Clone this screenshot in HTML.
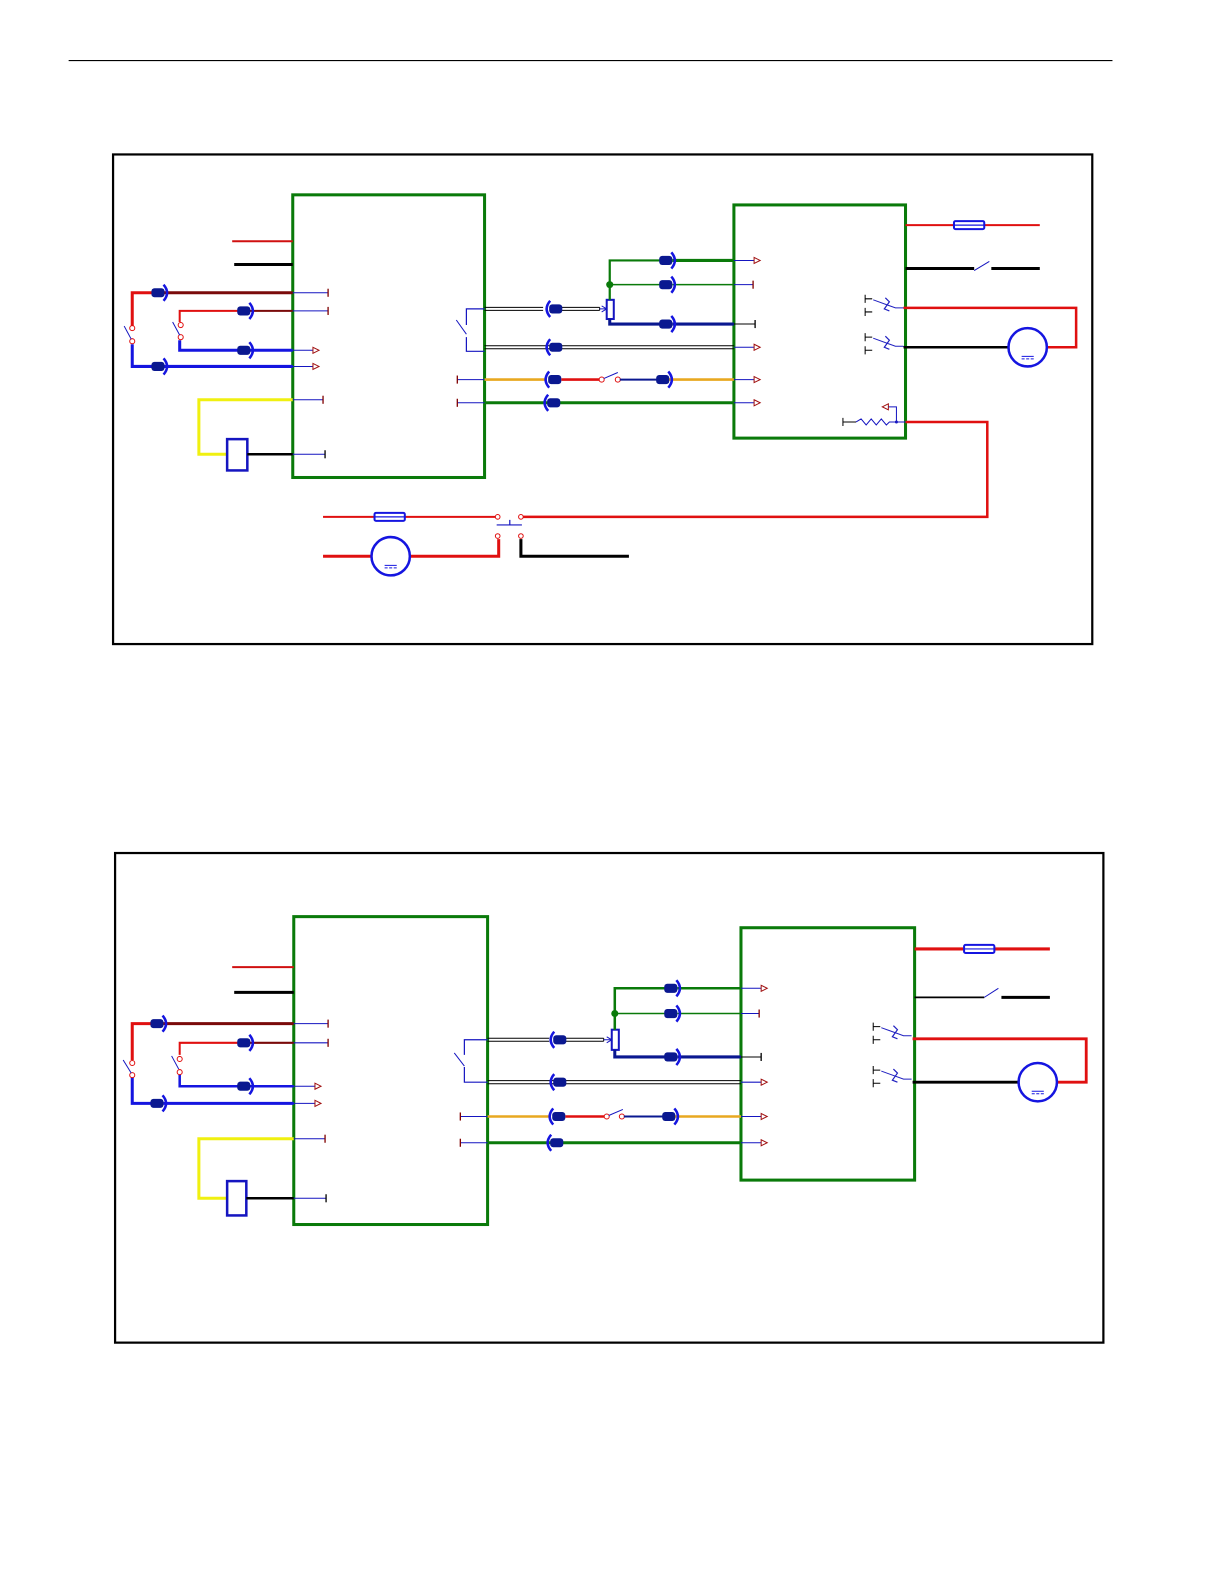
<!DOCTYPE html>
<html><head><meta charset="utf-8"><style>html,body{margin:0;padding:0;background:#fff}svg{display:block}</style></head>
<body>
<svg width="1224" height="1584" viewBox="0 0 1224 1584" xmlns="http://www.w3.org/2000/svg" fill="none" stroke-linecap="butt">
<defs>
<g id="cR"><rect x="-7" y="-4.5" width="13" height="9" rx="3" fill="#0a1890" stroke="none"/><path d="M5,-8 Q12,0 5,8" stroke="#1515e0" stroke-width="2.5"/></g>
<g id="cL"><rect x="-6" y="-4.5" width="13" height="9" rx="3" fill="#0a1890" stroke="none"/><path d="M-5,-8 Q-12,0 -5,8" stroke="#1515e0" stroke-width="2.5"/></g>
<g id="ar"><path d="M0,-3 L6,0 L0,3 Z" stroke="#a01010" stroke-width="1" fill="#fff"/></g>
<g id="tk"><path d="M0,-4 V4" stroke="#800000" stroke-width="1.3"/></g>
<g id="tkb"><path d="M0,-4 V4" stroke="#000" stroke-width="1.3"/></g>
<g id="motor"><circle r="19" stroke="#1515e0" stroke-width="2.5" fill="#fff"/><path d="M-6,9 H6 M-6,11.5 H-3 M-1.5,11.5 H1.5 M3,11.5 H6" stroke="#1515e0" stroke-width="1"/></g>
<g id="fuse"><rect x="0" y="-4" width="30" height="8" rx="1.5" stroke="#1515e0" stroke-width="2" fill="#fff"/><path d="M0,0 H30" stroke="#1515e0" stroke-width="1.2"/></g>
<g id="sw2"><path d="M0,-9 V-1 M0,-5 H7 M0,4 V12 M0,8 H7" stroke="#000" stroke-width="1"/><path d="M8,-4 L30,4 H38" stroke="#2020c0" stroke-width="1"/><path d="M20,-6 L24,-2 L19,5 L24,7" stroke="#2020c0" stroke-width="1.2"/></g>
</defs>
<g transform="scale(1.0095)">
<path d="M68,60 H1102" stroke="#000" stroke-width="1.2"/>

<rect x="112" y="153" width="970" height="485" stroke="#000" stroke-width="2.2"/>
<rect x="290" y="193" width="190" height="280" stroke="#0a7a0a" stroke-width="3"/>
<rect x="727" y="203" width="170" height="231" stroke="#0a7a0a" stroke-width="3"/>

<path d="M230,239 H290" stroke="#d01010" stroke-width="2"/>
<path d="M232,262 H290" stroke="#000" stroke-width="3"/>
<path d="M131,323 V290 H152" stroke="#e01010" stroke-width="3"/>
<path d="M162,290 H290" stroke="#7a0a0a" stroke-width="3"/>
<path d="M290,290 H325" stroke="#1515c0" stroke-width="1"/><use href="#tk" x="325" y="290"/>
<use href="#cR" x="157" y="290"/>
<path d="M178,319 V308 H236" stroke="#e01010" stroke-width="2"/>
<path d="M246,308 H290" stroke="#7a0a0a" stroke-width="2"/>
<path d="M290,308 H325" stroke="#1515c0" stroke-width="1"/><use href="#tk" x="325" y="308"/>
<use href="#cR" x="242" y="308"/>
<path d="M178,337 V347 H236" stroke="#1515e0" stroke-width="3"/>
<path d="M246,347 H290" stroke="#1515e0" stroke-width="3"/>
<path d="M290,347 H310" stroke="#1515c0" stroke-width="1"/><use href="#ar" x="310" y="347"/>
<use href="#cR" x="242" y="347"/>
<path d="M131,341 V363 H152" stroke="#1515e0" stroke-width="3"/>
<path d="M162,363 H290" stroke="#1515e0" stroke-width="3"/>
<path d="M290,363 H310" stroke="#1515c0" stroke-width="1"/><use href="#ar" x="310" y="363"/>
<use href="#cR" x="157" y="363"/>
<circle cx="131" cy="325" r="2.5" stroke="#e01010" stroke-width="1" fill="#fff"/>
<circle cx="131" cy="338" r="2.5" stroke="#e01010" stroke-width="1" fill="#fff"/>
<path d="M123,323 L130,336" stroke="#1515c0" stroke-width="1"/>
<circle cx="179" cy="322" r="2.5" stroke="#e01010" stroke-width="1" fill="#fff"/>
<circle cx="179" cy="334" r="2.5" stroke="#e01010" stroke-width="1" fill="#fff"/>
<path d="M171,319 L178,332" stroke="#1515c0" stroke-width="1"/>
<path d="M290,396 H197 V450 H225" stroke="#f0f010" stroke-width="3"/>
<path d="M290,396 H320" stroke="#1515c0" stroke-width="1"/><use href="#tk" x="320" y="396"/>
<rect x="225" y="435" width="20" height="31" stroke="#1515c0" stroke-width="2.5" fill="#fff"/>
<path d="M245,450 H290" stroke="#000" stroke-width="2.5"/>
<path d="M290,450 H322" stroke="#1515c0" stroke-width="1"/><use href="#tkb" x="322" y="450"/>

<path d="M480,306 H462 V322 M462,334 V348 H480" stroke="#1515c0" stroke-width="1.2"/>
<path d="M452,317 L462,331" stroke="#1515c0" stroke-width="1"/>
<path d="M480,304.5 H538 M480,307.5 H538 M555,304.5 H594 M555,307.5 H594 M594,304.5 V307.5" stroke="#000" stroke-width="1"/>
<path d="M594,306 H600 M596,303 L601,306 L596,309" stroke="#1515c0" stroke-width="1"/>
<use href="#cL" x="550" y="306"/>
<rect x="601" y="297" width="7" height="19" stroke="#1515c0" stroke-width="2" fill="#fff"/>
<path d="M604,316 V321 H656" stroke="#0a1890" stroke-width="3"/>
<path d="M666,321 H727" stroke="#0a1890" stroke-width="3"/>
<path d="M727,321 H748" stroke="#000" stroke-width="1"/><use href="#tkb" x="748" y="321"/>
<use href="#cR" x="660" y="321"/>
<path d="M604,297 V258 H656" stroke="#0a7a0a" stroke-width="2.2"/>
<path d="M666,258 H727" stroke="#0a7a0a" stroke-width="3"/>
<path d="M727,258 H747" stroke="#1515c0" stroke-width="1"/><use href="#ar" x="747" y="258"/>
<use href="#cR" x="660" y="258"/>
<path d="M604,282 H656 M666,282 H727" stroke="#0a7a0a" stroke-width="1.5"/>
<path d="M727,282 H746" stroke="#1515c0" stroke-width="1"/><use href="#tk" x="746" y="282"/>
<use href="#cR" x="660" y="282"/>
<circle cx="604" cy="282" r="3.5" fill="#0a7a0a" stroke="none"/>
<path d="M480,342.5 H727 M480,345.5 H727" stroke="#000" stroke-width="1"/>
<path d="M727,344 H747" stroke="#1515c0" stroke-width="1"/><use href="#ar" x="747" y="344"/>
<use href="#cL" x="550" y="344"/>
<path d="M453,376 H480" stroke="#1515c0" stroke-width="1"/><use href="#tk" x="453" y="376"/>
<path d="M480,376 H540" stroke="#e8a820" stroke-width="2.5"/>
<path d="M556,376 H594" stroke="#e01010" stroke-width="2.5"/>
<circle cx="596" cy="376" r="2.5" stroke="#e01010" stroke-width="1" fill="#fff"/>
<circle cx="612" cy="376" r="2.5" stroke="#e01010" stroke-width="1" fill="#fff"/>
<path d="M598,375 L612,369" stroke="#1515c0" stroke-width="1"/>
<path d="M614,376 H652" stroke="#0a1890" stroke-width="2"/>
<path d="M662,376 H727" stroke="#e8a820" stroke-width="2.5"/>
<use href="#cL" x="549" y="376"/>
<use href="#cR" x="657" y="376"/>
<path d="M727,376 H747" stroke="#1515c0" stroke-width="1"/><use href="#ar" x="747" y="376"/>
<path d="M453,399 H480" stroke="#1515c0" stroke-width="1"/><use href="#tk" x="453" y="399"/>
<path d="M480,399 H727" stroke="#0a7a0a" stroke-width="3"/>
<use href="#cL" x="548" y="399"/>
<path d="M727,399 H747" stroke="#1515c0" stroke-width="1"/><use href="#ar" x="747" y="399"/>

<path d="M897,223 H945 M975,223 H1030" stroke="#e01010" stroke-width="2"/>
<use href="#fuse" x="945" y="223"/>
<path d="M897,266 H965 M982,266 H1030" stroke="#000" stroke-width="3"/>
<path d="M965,268 L980,259" stroke="#1515c0" stroke-width="1"/>
<use href="#sw2" x="857" y="301"/>
<use href="#sw2" x="857" y="339"/>
<path d="M895,305 H1066 V344 H1037" stroke="#e01010" stroke-width="2.5"/>
<path d="M895,344 H999" stroke="#000" stroke-width="2.5"/>
<use href="#motor" x="1018" y="344"/>
<path d="M848,418 L853,415 L858,421 L863,415 L868,421 L873,415 L878,421 L881,418 H897" stroke="#1515c0" stroke-width="1"/>
<path d="M835,414 V422 M835,418 H848" stroke="#000" stroke-width="1"/>
<path d="M888,418 V403 H880" stroke="#1515c0" stroke-width="1"/>
<path d="M880,400 L874,403 L880,406 Z" stroke="#a01010" stroke-width="1" fill="#fff"/>
<circle cx="888" cy="418" r="1.5" fill="#1515c0" stroke="none"/>
<path d="M897,418 H978 V512 H518" stroke="#e01010" stroke-width="2.5"/>
<path d="M320,512 H370 M401,512 H491" stroke="#e01010" stroke-width="2"/>
<use href="#fuse" x="371" y="512"/>
<path d="M518,512 H978" stroke="#e01010" stroke-width="2"/>
<circle cx="493" cy="512" r="2.3" stroke="#e01010" stroke-width="1" fill="#fff"/>
<circle cx="516" cy="512" r="2.3" stroke="#e01010" stroke-width="1" fill="#fff"/>
<circle cx="493" cy="531" r="2.3" stroke="#e01010" stroke-width="1" fill="#fff"/>
<circle cx="516" cy="531" r="2.3" stroke="#e01010" stroke-width="1" fill="#fff"/>
<path d="M492,520 H517 M505,515 V520" stroke="#1515c0" stroke-width="1.2"/>
<path d="M320,551 H368 M406,551 H494 V534" stroke="#e01010" stroke-width="3"/>
<use href="#motor" x="387" y="551"/>
<path d="M516,534 V551 H623" stroke="#000" stroke-width="3"/>

<rect x="114" y="845" width="979" height="485" stroke="#000" stroke-width="2.2"/>
<rect x="291" y="908" width="192" height="305" stroke="#0a7a0a" stroke-width="3"/>
<rect x="734" y="919" width="172" height="250" stroke="#0a7a0a" stroke-width="3"/>

<path d="M230,958 H291" stroke="#d01010" stroke-width="2"/>
<path d="M232,983 H291" stroke="#000" stroke-width="3"/>
<path d="M131,1050 V1014 H152" stroke="#e01010" stroke-width="3"/>
<path d="M162,1014 H291" stroke="#7a0a0a" stroke-width="3"/>
<path d="M291,1014 H325" stroke="#1515c0" stroke-width="1"/><use href="#tk" x="325" y="1014"/>
<use href="#cR" x="156" y="1014"/>
<path d="M178,1045 V1033 H236" stroke="#e01010" stroke-width="2"/>
<path d="M246,1033 H291" stroke="#7a0a0a" stroke-width="2"/>
<path d="M291,1033 H325" stroke="#1515c0" stroke-width="1"/><use href="#tk" x="325" y="1033"/>
<use href="#cR" x="242" y="1033"/>
<path d="M178,1062 V1076 H236" stroke="#1515e0" stroke-width="2.5"/>
<path d="M246,1076 H291" stroke="#1515e0" stroke-width="2.5"/>
<path d="M291,1076 H312" stroke="#1515c0" stroke-width="1"/><use href="#ar" x="312" y="1076"/>
<use href="#cR" x="242" y="1076"/>
<path d="M131,1066 V1093 H152" stroke="#1515e0" stroke-width="3"/>
<path d="M162,1093 H291" stroke="#1515e0" stroke-width="3"/>
<path d="M291,1093 H312" stroke="#1515c0" stroke-width="1"/><use href="#ar" x="312" y="1093"/>
<use href="#cR" x="156" y="1093"/>
<circle cx="131" cy="1053" r="2.5" stroke="#e01010" stroke-width="1" fill="#fff"/>
<circle cx="131" cy="1065" r="2.5" stroke="#e01010" stroke-width="1" fill="#fff"/>
<path d="M122,1050 L130,1063" stroke="#1515c0" stroke-width="1"/>
<circle cx="178" cy="1049" r="2.5" stroke="#e01010" stroke-width="1" fill="#fff"/>
<circle cx="178" cy="1062" r="2.5" stroke="#e01010" stroke-width="1" fill="#fff"/>
<path d="M170,1046 L177,1059" stroke="#1515c0" stroke-width="1"/>
<path d="M291,1128 H197 V1187 H225" stroke="#f0f010" stroke-width="3"/>
<path d="M291,1128 H322" stroke="#1515c0" stroke-width="1"/><use href="#tk" x="322" y="1128"/>
<rect x="225" y="1170" width="19" height="34" stroke="#1515c0" stroke-width="2.5" fill="#fff"/>
<path d="M244,1187 H291" stroke="#000" stroke-width="2.5"/>
<path d="M291,1187 H323" stroke="#1515c0" stroke-width="1"/><use href="#tkb" x="323" y="1187"/>

<path d="M483,1030 H460 V1045 M460,1057 V1072 H483" stroke="#1515c0" stroke-width="1.2"/>
<path d="M450,1043 L460,1056" stroke="#1515c0" stroke-width="1"/>
<path d="M483,1028.5 H544 M483,1031.5 H544 M560,1028.5 H598 M560,1031.5 H598 M598,1028.5 V1031.5" stroke="#000" stroke-width="1"/>
<path d="M598,1030 H606 M601,1027 L606,1030 L601,1033" stroke="#1515c0" stroke-width="1"/>
<use href="#cL" x="554" y="1030"/>
<rect x="606" y="1020" width="7" height="20" stroke="#1515c0" stroke-width="2" fill="#fff"/>
<path d="M609,1040 V1047 H661" stroke="#0a1890" stroke-width="3"/>
<path d="M671,1047 H734" stroke="#0a1890" stroke-width="3"/>
<path d="M734,1047 H754" stroke="#000" stroke-width="1"/><use href="#tkb" x="754" y="1047"/>
<use href="#cR" x="665" y="1047"/>
<path d="M609,1020 V979 H661" stroke="#0a7a0a" stroke-width="2.5"/>
<path d="M671,979 H734" stroke="#0a7a0a" stroke-width="2.5"/>
<path d="M734,979 H754" stroke="#1515c0" stroke-width="1"/><use href="#ar" x="754" y="979"/>
<use href="#cR" x="665" y="979"/>
<path d="M609,1004 H661 M671,1004 H734" stroke="#0a7a0a" stroke-width="1.5"/>
<path d="M734,1004 H752" stroke="#1515c0" stroke-width="1"/><use href="#tk" x="752" y="1004"/>
<use href="#cR" x="665" y="1004"/>
<circle cx="609" cy="1004" r="3.5" fill="#0a7a0a" stroke="none"/>
<path d="M483,1070.5 H734 M483,1073.5 H734" stroke="#000" stroke-width="1"/>
<path d="M734,1072 H754" stroke="#1515c0" stroke-width="1"/><use href="#ar" x="754" y="1072"/>
<use href="#cL" x="554" y="1072"/>
<path d="M456,1106 H483" stroke="#1515c0" stroke-width="1"/><use href="#tk" x="456" y="1106"/>
<path d="M483,1106 H545" stroke="#e8a820" stroke-width="2.5"/>
<path d="M560,1106 H599" stroke="#e01010" stroke-width="2.5"/>
<circle cx="601" cy="1106" r="2.5" stroke="#e01010" stroke-width="1" fill="#fff"/>
<circle cx="616" cy="1106" r="2.5" stroke="#e01010" stroke-width="1" fill="#fff"/>
<path d="M603,1105 L617,1099" stroke="#1515c0" stroke-width="1"/>
<path d="M618,1106 H658" stroke="#0a1890" stroke-width="2"/>
<path d="M668,1106 H734" stroke="#e8a820" stroke-width="2.5"/>
<use href="#cL" x="553" y="1106"/>
<use href="#cR" x="663" y="1106"/>
<path d="M734,1106 H754" stroke="#1515c0" stroke-width="1"/><use href="#ar" x="754" y="1106"/>
<path d="M456,1132 H483" stroke="#1515c0" stroke-width="1"/><use href="#tk" x="456" y="1132"/>
<path d="M483,1132 H734" stroke="#0a7a0a" stroke-width="3"/>
<use href="#cL" x="551" y="1132"/>
<path d="M734,1132 H754" stroke="#1515c0" stroke-width="1"/><use href="#ar" x="754" y="1132"/>

<path d="M906,940 H955 M985,940 H1040" stroke="#e01010" stroke-width="3"/>
<use href="#fuse" x="955" y="940"/>
<path d="M906,988 H975" stroke="#000" stroke-width="1.8"/>
<path d="M992,988 H1040" stroke="#000" stroke-width="3"/>
<path d="M975,988 L989,979" stroke="#1515c0" stroke-width="1"/>
<use href="#sw2" x="865" y="1022"/>
<use href="#sw2" x="865" y="1065"/>
<path d="M904,1029 H1076 V1072 H1047" stroke="#e01010" stroke-width="2.8"/>
<path d="M904,1072 H1009" stroke="#000" stroke-width="2.8"/>
<use href="#motor" x="1028" y="1072"/>
</g>
</svg>
</body></html>
